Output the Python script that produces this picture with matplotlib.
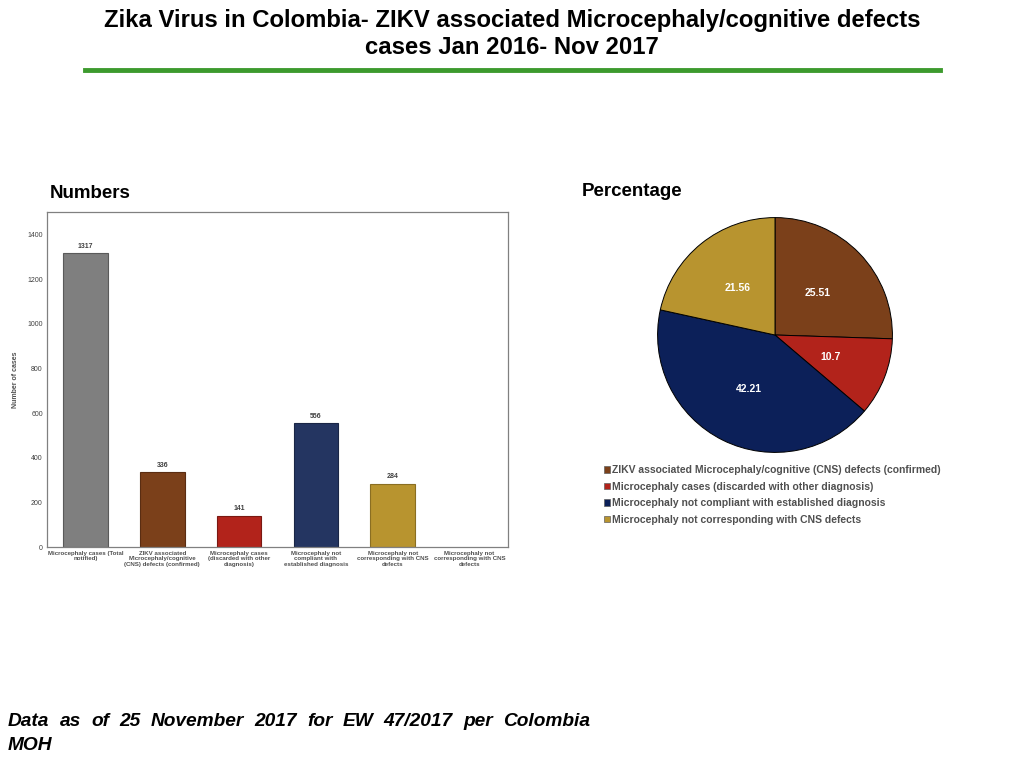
import matplotlib
matplotlib.use("Agg")
import matplotlib.pyplot as plt
from matplotlib.patches import Patch

plt.rcParams['font.family'] = ['Liberation Sans', 'DejaVu Sans']

# ---- data ----
bar_categories = [
    "Microcephaly cases (Total\nnotified)",
    "ZIKV associated\nMicrocephaly/cognitive\n(CNS) defects (confirmed)",
    "Microcephaly cases\n(discarded with other\ndiagnosis)",
    "Microcephaly not\ncompliant with\nestablished diagnosis",
    "Microcephaly not\ncorresponding with CNS\ndefects",
    "Microcephaly not\ncorresponding with CNS\ndefects",
]
bar_values = [1317, 336, 141, 556, 284, 0]
bar_labels = ["1317", "336", "141", "556", "284", ""]
bar_colors = ["#7f7f7f", "#7b401a", "#b2231b", "#243561", "#b8942f", "#ffffff"]
bar_edges = ["#5a5a5a", "#5a2d12", "#7a1812", "#1a2646", "#8a6e22", "#ffffff"]
y_ticks = [0, 200, 400, 600, 800, 1000, 1200, 1400]

pie_labels = [
    "ZIKV associated Microcephaly/cognitive (CNS) defects (confirmed)",
    "Microcephaly cases (discarded with other diagnosis)",
    "Microcephaly not compliant with established diagnosis",
    "Microcephaly not corresponding with CNS defects",
]
pie_values = [25.51, 10.7, 42.21, 21.56]
pie_texts = ["25.51", "10.7", "42.21", "21.56"]
pie_colors = ["#7b401a", "#b2231b", "#0c2059", "#b8942f"]

footer_line1 = "Data as of 25 November 2017 for EW 47/2017 per Colombia"
footer_line2 = "MOH"

# ---- figure ----
fig = plt.figure(figsize=(10.24, 7.68), dpi=100)

fig.text(0.5, 1 - 20 / 768, "Zika Virus in Colombia- ZIKV associated Microcephaly/cognitive defects",
         ha="center", va="center", fontsize=17.2, fontweight="bold")
fig.text(0.5, 1 - 47 / 768, "cases Jan 2016- Nov 2017",
         ha="center", va="center", fontsize=17.2, fontweight="bold")
fig.add_artist(plt.Line2D([85 / 1024, 940 / 1024], [1 - 70 / 768, 1 - 70 / 768],
                          color="#3d9a2e", lw=3.5))

fig.text(50 / 1024, 1 - 193 / 768, "Numbers", ha="left", va="center",
         fontsize=13.5, fontweight="bold")
fig.text(582 / 1024, 1 - 191 / 768, "Percentage", ha="left", va="center",
         fontsize=13.5, fontweight="bold")

# bar chart
ax = fig.add_axes([47 / 1024, 1 - 547 / 768, 461 / 1024, 335 / 768])
x = list(range(len(bar_values)))
ax.bar(x, bar_values, width=0.58, color=bar_colors, edgecolor=bar_edges, linewidth=0.8)
for xi, v, lab in zip(x, bar_values, bar_labels):
    if lab:
        ax.text(xi, v + 14, lab, ha="center", va="bottom", fontsize=5,
                fontweight="bold", color="#404040")
ax.set_xlim(-0.5, len(bar_values) - 0.5)
ax.set_ylim(0, 1500)
ax.set_yticks(y_ticks)
ax.set_yticklabels([str(t) for t in y_ticks], fontsize=5, color="#404040")
ax.set_xticks(x)
ax.set_xticklabels(bar_categories, fontsize=4.4, fontweight="bold", color="#505050",
                   linespacing=1.05)
ax.tick_params(length=0, pad=3)
ax.set_ylabel("Number of cases", fontsize=5, fontweight="bold", color="#505050", labelpad=6)
for s in ax.spines.values():
    s.set_color("#808080")
    s.set_linewidth(0.9)

# pie chart
pax = fig.add_axes([657 / 1024, 1 - 453 / 768, 236 / 1024, 236 / 768])
wedges, texts = pax.pie(pie_values, colors=pie_colors, startangle=90, counterclock=False,
                        labels=pie_texts, labeldistance=0.51,
                        wedgeprops=dict(edgecolor="black", linewidth=0.7))
for t in texts:
    t.set_color("white")
    t.set_fontweight("bold")
    t.set_fontsize(7.5)
    t.set_ha("center")
    t.set_va("center")
pax.set_xlim(-1.005, 1.005)
pax.set_ylim(-1.005, 1.005)
pax.set_aspect("equal")

handles = [Patch(facecolor=c, edgecolor="#606060", linewidth=0.5) for c in pie_colors]
fig.legend(handles, pie_labels, loc="upper left",
           bbox_to_anchor=(600 / 1024, 1 - 461 / 768), frameon=False,
           prop=dict(size=7.5, weight="bold"), labelcolor="#505050",
           handlelength=0.6, handleheight=0.6, handletextpad=0.2,
           labelspacing=0.62, borderaxespad=0)

# footer, justified line 1
renderer = fig.canvas.get_renderer()
words = footer_line1.split(" ")
x0, x1 = 8 / 1024, 590 / 1024
y1 = 1 - 721 / 768
word_texts = []
widths = []
for w in words:
    t = fig.text(0, y1, w, ha="left", va="center", fontsize=13.8,
                 fontweight="bold", fontstyle="italic")
    word_texts.append(t)
    widths.append(t.get_window_extent(renderer).width / fig.bbox.width)
gap = (x1 - x0 - sum(widths)) / (len(words) - 1)
cur = x0
for t, wd in zip(word_texts, widths):
    t.set_x(cur)
    cur += wd + gap
fig.text(x0, 1 - 746 / 768, footer_line2,
         ha="left", va="center", fontsize=13.8, fontweight="bold", fontstyle="italic")

fig.savefig("out.png", dpi=100)
